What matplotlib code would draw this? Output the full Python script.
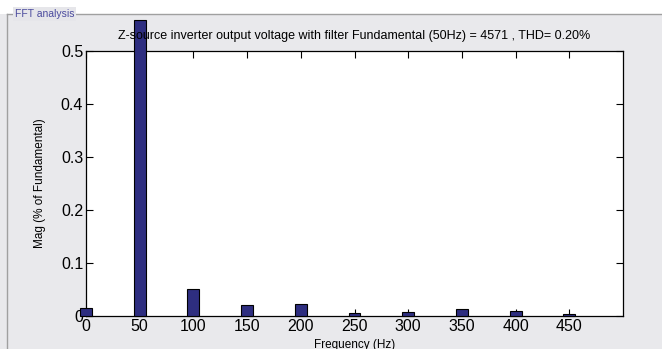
import matplotlib
matplotlib.use("Agg")
import matplotlib.pyplot as plt
from matplotlib.lines import Line2D
from matplotlib.patches import Rectangle

# harmonic spectrum
freqs = [0, 50, 100, 150, 200, 250, 300, 350, 400, 450]
mags = [0.0157, 0.558, 0.0516, 0.020, 0.023, 0.0057, 0.007, 0.0138, 0.0094, 0.0044]
xticks = [0, 50, 100, 150, 200, 250, 300, 350, 400, 450]
yticks = [0, 0.1, 0.2, 0.3, 0.4, 0.5]
title = "Z-source inverter output voltage with filter Fundamental (50Hz) = 4571 , THD= 0.20%"

plt.rcParams["font.family"] = ["Liberation Sans", "DejaVu Sans"]

W, H = 662, 349
fig = plt.figure(figsize=(W / 100, H / 100), dpi=100, facecolor="#e9e9ec")

# white strip above the panel
fig.patches.append(Rectangle((0, 1 - 14 / H), 1, 14 / H, transform=fig.transFigure,
                             facecolor="white", edgecolor="none", zorder=0))
# panel border lines
fig.lines.append(Line2D([7 / W, 7 / W], [0, 1 - 14 / H], transform=fig.transFigure,
                        color="#a0a0a0", lw=1))
fig.lines.append(Line2D([7 / W, 1], [1 - 14 / H, 1 - 14 / H], transform=fig.transFigure,
                        color="#a0a0a0", lw=1))
fig.text(15 / W, 1 - 14 / H, "FFT analysis", fontsize=7.5, color="#4b4b9e",
         va="center", ha="left",
         bbox=dict(boxstyle="square,pad=0.15", facecolor="#e6e6ea", edgecolor="none"))

ax = fig.add_axes([86 / W, 1 - 316 / H, (623 - 86) / W, (316 - 51) / H])
ax.set_facecolor("white")
ax.bar(freqs, mags, width=11, color="#2e2e80", edgecolor="black", linewidth=0.8,
       clip_on=False, zorder=3)

ax.set_xlim(0, 500)
ax.set_ylim(0, 0.5)
ax.set_xticks(xticks)
ax.set_yticks(yticks)
ax.set_yticklabels(["0", "0.1", "0.2", "0.3", "0.4", "0.5"])
ax.tick_params(direction="in", length=5, top=True, right=True, labelsize=11.5,
               width=0.8, pad=2)
for s in ax.spines.values():
    s.set_linewidth(0.9)

ax.set_title(title, fontsize=9, pad=9)
ax.set_xlabel("Frequency (Hz)", fontsize=8.5, labelpad=4)
ax.set_ylabel("Mag (% of Fundamental)", fontsize=8.5, labelpad=11)

fig.savefig("out.png", dpi=100, facecolor=fig.get_facecolor())
